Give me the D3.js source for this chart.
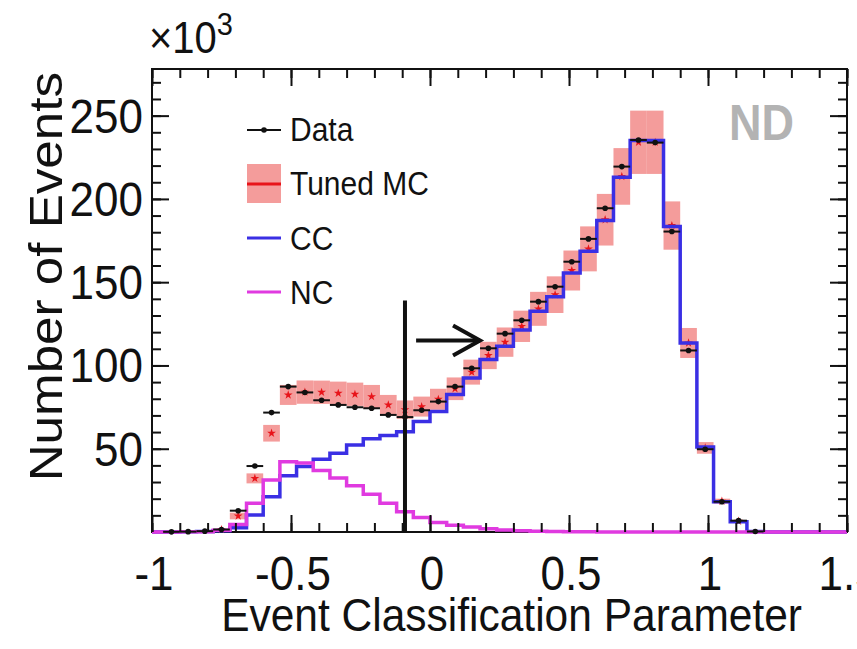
<!DOCTYPE html>
<html>
<head>
<meta charset="utf-8">
<script src="https://cdn.jsdelivr.net/npm/d3@7"></script>
<style>
  body { margin: 0; background: #fff; }
  text { font-family: "Liberation Sans", Arial, Helvetica, sans-serif; fill: #111; }
</style>
</head>
<body>
<div id="chart"></div>
<script>
// bins are 0.06 wide, values in units of 10^3 events
const binCenters = [-0.99, -0.93, -0.87, -0.81, -0.75, -0.69, -0.63, -0.57, -0.51, -0.45,
  -0.39, -0.33, -0.27, -0.21, -0.15, -0.09, -0.03, 0.03, 0.09, 0.15,
  0.21, 0.27, 0.33, 0.39, 0.45, 0.51, 0.57, 0.63, 0.69, 0.75,
  0.81, 0.87, 0.93, 0.99, 1.05, 1.11, 1.17, 1.23, 1.29, 1.35, 1.41, 1.47];
const binWidth = 0.06;

const dataCounts = [0, 0.1, 0.2, 0.5, 1.5, 12.8, 39.6, 71.7, 87.3, 83.8,
  79.1, 76.3, 74.9, 74.3, 70.3, 69.0, 73.1, 78.3, 87.3, 98.3,
  110.3, 119.1, 127.1, 138.3, 147.3, 162.3, 176.0, 194.4, 219.4, 235.4,
  233.8, 180.4, 109.0, 49.7, 18.2, 6.8, 0.3, 0, 0, 0, 0, 0];

const tunedMC = [0, 0.1, 0.2, 0.5, 1.5, 9.6, 32.2, 59.3, 82.3, 84.0,
  83.9, 83.3, 82.7, 81.3, 76.3, 73.5, 75.3, 79.7, 86.0, 96.0,
  106.0, 114.0, 123.5, 134.0, 142.5, 157.0, 170.0, 187.5, 213.5, 234.0,
  234.0, 184.0, 113.5, 50.5, 18.5, 6.5, 0.5, 0, 0, 0, 0, 0];

const tunedMCErr = [0, 0, 0, 0.1, 0.3, 2, 3, 5, 6, 7,
  7, 7, 7, 7, 6, 5.5, 6, 6.3, 6.8, 7.5,
  8.2, 8.8, 9.4, 10.2, 11, 12, 13.5, 15.5, 17, 19,
  19, 14.5, 9, 3.5, 1.5, 0.5, 0.1, 0, 0, 0, 0, 0];

const ccCounts = [0, 0, 0.1, 0.3, 0.8, 2.5, 10.2, 21.2, 33.7, 39.4,
  43.7, 47.3, 52.2, 56.0, 58.0, 60.2, 66.3, 72.3, 82.5, 92.5,
  103.5, 111.5, 121.3, 132.5, 141.3, 155.5, 168.5, 187.0, 213.0, 235.0,
  235.0, 183.5, 113.5, 51.0, 18.2, 6.2, 0.3, 0, 0, 0, 0, 0];

const ncCounts = [0, 0, 0.1, 0.2, 1.0, 4.5, 17.2, 31.2, 42.2, 41.5,
  37.0, 32.4, 27.7, 22.7, 17.2, 12.2, 8.7, 5.7, 4.0, 3.0,
  2.0, 1.2, 0.8, 0.5, 0.3, 0.2, 0.1, 0, 0, 0,
  0, 0, 0, 0, 0, 0, 0, 0, 0, 0, 0, 0];

const xTicks = [-1, -0.5, 0, 0.5, 1, 1.5];
const xMinorTicks = d3.range(-1, 1.501, 0.1);
const yTicks = [50, 100, 150, 200, 250];
const yMinorTicks = d3.range(10, 271, 10);

const cutValue = -0.09;
const cutTop = 139;
const arrowFrom = -0.05, arrowTo = 0.18, arrowLevel = 115;

const W = 857, H = 649;
const plot = { left: 152, right: 847, top: 69, bottom: 532 };

const svg = d3.select("#chart").append("svg")
  .attr("width", W).attr("height", H);

const x = d3.scaleLinear().domain([-1, 1.5]).range([plot.left, plot.right]);
const y = d3.scaleLinear().domain([0, 278]).range([plot.bottom, plot.top]);

// text is a little taller than wide in the original
const label = (parent, px, py, str, size, anchor) => parent.append("text")
  .attr("transform", `translate(${px},${py}) scale(1,1.1)`)
  .attr("text-anchor", anchor)
  .style("font-size", size + "px")
  .text(str);

svg.append("defs").append("clipPath").attr("id", "plot-clip")
  .append("rect")
  .attr("x", plot.left).attr("y", plot.top)
  .attr("width", plot.right - plot.left)
  .attr("height", plot.bottom - plot.top + 4);

// frame
svg.append("rect")
  .attr("x", plot.left).attr("y", plot.top)
  .attr("width", plot.right - plot.left).attr("height", plot.bottom - plot.top)
  .attr("fill", "#fff").attr("stroke", "#111").attr("stroke-width", 2);

const bins = binCenters.map((c, i) => ({
  lo: c - binWidth / 2, hi: c + binWidth / 2, c,
  data: dataCounts[i], mc: tunedMC[i], err: tunedMCErr[i], cc: ccCounts[i], nc: ncCounts[i]
}));

const g = svg.append("g").attr("clip-path", "url(#plot-clip)");

// Tuned MC error boxes
g.selectAll(".mc-box")
  .data(bins.filter(d => d.err > 0))
  .enter().append("rect")
  .attr("class", "mc-box")
  .attr("x", d => x(d.lo))
  .attr("width", d => x(d.hi) - x(d.lo))
  .attr("y", d => y(d.mc + d.err))
  .attr("height", d => y(d.mc - d.err) - y(d.mc + d.err))
  .attr("fill", "#f49c9b");

g.selectAll(".mc-star")
  .data(bins.filter(d => d.mc > 0.5))
  .enter().append("path")
  .attr("class", "mc-star")
  .attr("transform", d => `translate(${x(d.c)},${y(d.mc)})`)
  .attr("d", d3.symbol(d3.symbolStar, 24))
  .attr("fill", "#e8141a");

// step histograms
const stepLine = d3.line()
  .x(d => x(d[0]))
  .y(d => y(d[1]))
  .curve(d3.curveStepAfter);

const stepPoints = key => {
  const pts = bins.map(b => [b.lo, b[key]]);
  pts.push([bins[bins.length - 1].hi, bins[bins.length - 1][key]]);
  return pts;
};

g.append("path")
  .datum(stepPoints("cc"))
  .attr("fill", "none")
  .attr("stroke", "#3a2fe4")
  .attr("stroke-width", 3.5)
  .attr("d", stepLine);

g.append("path")
  .datum(stepPoints("nc"))
  .attr("fill", "none")
  .attr("stroke", "#e03ae0")
  .attr("stroke-width", 3.5)
  .attr("d", stepLine);

// data points
const pts = g.selectAll(".data-pt")
  .data(bins.filter(d => d.data > 0))
  .enter().append("g")
  .attr("class", "data-pt");

pts.append("line")
  .attr("x1", d => x(d.lo)).attr("x2", d => x(d.hi))
  .attr("y1", d => y(d.data)).attr("y2", d => y(d.data))
  .attr("stroke", "#111").attr("stroke-width", 2);

pts.append("circle")
  .attr("cx", d => x(d.c)).attr("cy", d => y(d.data))
  .attr("r", 2.8).attr("fill", "#111");

// cut and arrow
svg.append("line")
  .attr("x1", x(cutValue)).attr("x2", x(cutValue))
  .attr("y1", y(0)).attr("y2", y(cutTop))
  .attr("stroke", "#111").attr("stroke-width", 4);

svg.append("line")
  .attr("x1", x(arrowFrom)).attr("x2", x(arrowTo))
  .attr("y1", y(arrowLevel)).attr("y2", y(arrowLevel))
  .attr("stroke", "#111").attr("stroke-width", 4);

svg.append("path")
  .attr("d", `M${x(arrowTo) - 27},${y(arrowLevel) - 15} L${x(arrowTo)},${y(arrowLevel)} L${x(arrowTo) - 27},${y(arrowLevel) + 15}`)
  .attr("fill", "none")
  .attr("stroke", "#111").attr("stroke-width", 4)
  .attr("stroke-linejoin", "miter");

// ticks on all four sides
const tickGroup = (axis, tx, ty) => {
  const t = svg.append("g").attr("transform", `translate(${tx},${ty})`).call(axis);
  t.select(".domain").remove();
  t.selectAll("line").attr("stroke", "#111").attr("stroke-width", 2);
  t.selectAll("text").remove();
};

tickGroup(d3.axisBottom(x).tickValues(xTicks).tickSize(-17), 0, plot.bottom);
tickGroup(d3.axisBottom(x).tickValues(xMinorTicks).tickSize(-9), 0, plot.bottom);
tickGroup(d3.axisTop(x).tickValues(xTicks).tickSize(-17), 0, plot.top);
tickGroup(d3.axisTop(x).tickValues(xMinorTicks).tickSize(-9), 0, plot.top);
tickGroup(d3.axisLeft(y).tickValues(yTicks).tickSize(-17), plot.left, 0);
tickGroup(d3.axisLeft(y).tickValues(yMinorTicks).tickSize(-9), plot.left, 0);
tickGroup(d3.axisRight(y).tickValues(yTicks).tickSize(-17), plot.right, 0);
tickGroup(d3.axisRight(y).tickValues(yMinorTicks).tickSize(-9), plot.right, 0);

// tick labels
xTicks.forEach(v => label(svg, x(v) + 2, plot.bottom + 58, String(v), 44, "middle"));
yTicks.forEach(v => label(svg, plot.left - 9, y(v) + 17, String(v), 44, "end"));

// axis titles
label(svg, 802, 631, "Event Classification Parameter", 42.5, "end");

svg.append("text")
  .attr("transform", "translate(62,72) rotate(-90) scale(1.1,1)")
  .attr("text-anchor", "end")
  .style("font-size", "46.5px")
  .text("Number of Events");

const expo = svg.append("text")
  .attr("transform", "translate(149,53) scale(1,1.1)")
  .style("font-size", "40px");
expo.append("tspan").text("\u00d710");
expo.append("tspan").attr("dy", -16).style("font-size", "29px").text("3");

svg.append("text")
  .attr("transform", "translate(729,140) scale(1,1.1)")
  .style("font-size", "45px")
  .style("font-weight", "bold")
  .style("fill", "#b3b3b3")
  .text("ND");

// legend
const legend = svg.append("g");
const lx0 = 247, lx1 = 281;

legend.append("line")
  .attr("x1", lx0).attr("x2", lx1).attr("y1", 130).attr("y2", 130)
  .attr("stroke", "#111").attr("stroke-width", 2);
legend.append("circle")
  .attr("cx", (lx0 + lx1) / 2).attr("cy", 130).attr("r", 2.8).attr("fill", "#111");
label(legend, 290, 141, "Data", 30, "start");

legend.append("rect")
  .attr("x", lx0).attr("y", 164).attr("width", lx1 - lx0).attr("height", 39)
  .attr("fill", "#f49c9b");
legend.append("line")
  .attr("x1", lx0).attr("x2", lx1).attr("y1", 184).attr("y2", 184)
  .attr("stroke", "#e8141a").attr("stroke-width", 3);
label(legend, 290, 195, "Tuned MC", 30, "start");

legend.append("line")
  .attr("x1", lx0).attr("x2", lx1).attr("y1", 238).attr("y2", 238)
  .attr("stroke", "#3a2fe4").attr("stroke-width", 3);
label(legend, 290, 250, "CC", 30, "start");

legend.append("line")
  .attr("x1", lx0).attr("x2", lx1).attr("y1", 292).attr("y2", 292)
  .attr("stroke", "#e03ae0").attr("stroke-width", 3);
label(legend, 290, 304, "NC", 30, "start");
</script>
</body>
</html>
